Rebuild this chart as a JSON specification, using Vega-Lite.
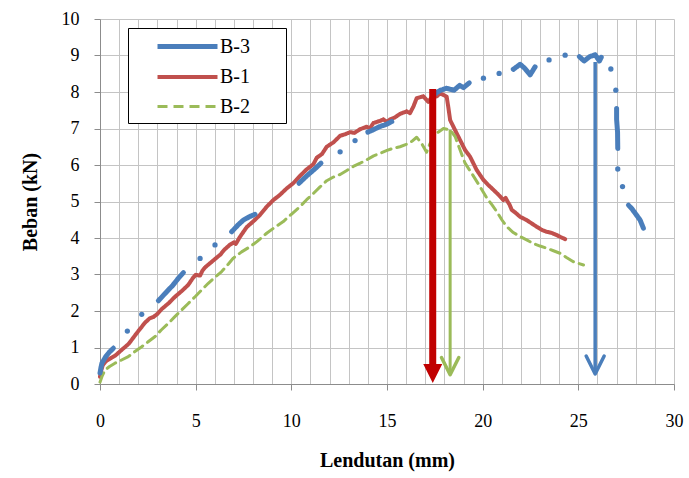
{
  "$schema": "https://vega.github.io/schema/vega-lite/v6.json",
  "autosize": {"type": "none"},
  "width": 574,
  "height": 365,
  "padding": {"left": 100, "top": 19, "right": 15, "bottom": 94},
  "background": "white",
  "config": {
    "view": {"stroke": null}
  },
  "datasets": {
    "curves": [
      {"s": "B-1", "g": "r", "x": 0, "y": 0.2},
      {"s": "B-1", "g": "r", "x": 0.05, "y": 0.35},
      {"s": "B-1", "g": "r", "x": 0.15, "y": 0.52},
      {"s": "B-1", "g": "r", "x": 0.3, "y": 0.62},
      {"s": "B-1", "g": "r", "x": 0.6, "y": 0.72},
      {"s": "B-1", "g": "r", "x": 0.8, "y": 0.78},
      {"s": "B-1", "g": "r", "x": 1.1, "y": 0.92},
      {"s": "B-1", "g": "r", "x": 1.5, "y": 1.1},
      {"s": "B-1", "g": "r", "x": 1.9, "y": 1.38},
      {"s": "B-1", "g": "r", "x": 2.35, "y": 1.68},
      {"s": "B-1", "g": "r", "x": 2.6, "y": 1.8},
      {"s": "B-1", "g": "r", "x": 2.8, "y": 1.84},
      {"s": "B-1", "g": "r", "x": 3.0, "y": 1.92},
      {"s": "B-1", "g": "r", "x": 3.22, "y": 2.05},
      {"s": "B-1", "g": "r", "x": 3.6, "y": 2.22},
      {"s": "B-1", "g": "r", "x": 3.92, "y": 2.39},
      {"s": "B-1", "g": "r", "x": 4.3, "y": 2.56},
      {"s": "B-1", "g": "r", "x": 4.62, "y": 2.72},
      {"s": "B-1", "g": "r", "x": 4.85, "y": 2.9},
      {"s": "B-1", "g": "r", "x": 5.0, "y": 2.99},
      {"s": "B-1", "g": "r", "x": 5.23, "y": 2.97},
      {"s": "B-1", "g": "r", "x": 5.35, "y": 3.1},
      {"s": "B-1", "g": "r", "x": 5.5, "y": 3.2},
      {"s": "B-1", "g": "r", "x": 5.8, "y": 3.33},
      {"s": "B-1", "g": "r", "x": 6.0, "y": 3.42},
      {"s": "B-1", "g": "r", "x": 6.3, "y": 3.55},
      {"s": "B-1", "g": "r", "x": 6.5, "y": 3.68},
      {"s": "B-1", "g": "r", "x": 6.8, "y": 3.82},
      {"s": "B-1", "g": "r", "x": 7.0, "y": 3.88},
      {"s": "B-1", "g": "r", "x": 7.1, "y": 3.84},
      {"s": "B-1", "g": "r", "x": 7.3, "y": 4.02},
      {"s": "B-1", "g": "r", "x": 7.67, "y": 4.3},
      {"s": "B-1", "g": "r", "x": 8.0, "y": 4.45},
      {"s": "B-1", "g": "r", "x": 8.36, "y": 4.63},
      {"s": "B-1", "g": "r", "x": 8.7, "y": 4.85},
      {"s": "B-1", "g": "r", "x": 9.06, "y": 5.04},
      {"s": "B-1", "g": "r", "x": 9.4, "y": 5.18},
      {"s": "B-1", "g": "r", "x": 9.76, "y": 5.36},
      {"s": "B-1", "g": "r", "x": 10.1, "y": 5.5},
      {"s": "B-1", "g": "r", "x": 10.45, "y": 5.7},
      {"s": "B-1", "g": "r", "x": 10.8, "y": 5.88},
      {"s": "B-1", "g": "r", "x": 11.15, "y": 6.02},
      {"s": "B-1", "g": "r", "x": 11.33, "y": 6.2},
      {"s": "B-1", "g": "r", "x": 11.6, "y": 6.3},
      {"s": "B-1", "g": "r", "x": 11.85, "y": 6.5},
      {"s": "B-1", "g": "r", "x": 12.2, "y": 6.62},
      {"s": "B-1", "g": "r", "x": 12.55, "y": 6.8},
      {"s": "B-1", "g": "r", "x": 12.8, "y": 6.84},
      {"s": "B-1", "g": "r", "x": 13.07, "y": 6.9},
      {"s": "B-1", "g": "r", "x": 13.3, "y": 6.88},
      {"s": "B-1", "g": "r", "x": 13.59, "y": 6.98},
      {"s": "B-1", "g": "r", "x": 13.94, "y": 7.05},
      {"s": "B-1", "g": "r", "x": 14.1, "y": 7.0},
      {"s": "B-1", "g": "r", "x": 14.29, "y": 7.15},
      {"s": "B-1", "g": "r", "x": 14.6, "y": 7.2},
      {"s": "B-1", "g": "r", "x": 14.81, "y": 7.25},
      {"s": "B-1", "g": "r", "x": 15.0, "y": 7.18},
      {"s": "B-1", "g": "r", "x": 15.16, "y": 7.25},
      {"s": "B-1", "g": "r", "x": 15.4, "y": 7.3},
      {"s": "B-1", "g": "r", "x": 15.68, "y": 7.4},
      {"s": "B-1", "g": "r", "x": 16.03, "y": 7.47},
      {"s": "B-1", "g": "r", "x": 16.2, "y": 7.42},
      {"s": "B-1", "g": "r", "x": 16.38, "y": 7.6},
      {"s": "B-1", "g": "r", "x": 16.55, "y": 7.83},
      {"s": "B-1", "g": "r", "x": 16.9, "y": 7.88},
      {"s": "B-1", "g": "r", "x": 17.16, "y": 7.73},
      {"s": "B-1", "g": "r", "x": 17.33, "y": 7.85},
      {"s": "B-1", "g": "r", "x": 17.6, "y": 7.88},
      {"s": "B-1", "g": "r", "x": 17.77, "y": 7.96},
      {"s": "B-1", "g": "r", "x": 17.95, "y": 7.92},
      {"s": "B-1", "g": "r", "x": 18.12, "y": 7.87},
      {"s": "B-1", "g": "r", "x": 18.2, "y": 7.6},
      {"s": "B-1", "g": "r", "x": 18.3, "y": 7.23},
      {"s": "B-1", "g": "r", "x": 18.47, "y": 7.05},
      {"s": "B-1", "g": "r", "x": 18.64, "y": 6.87},
      {"s": "B-1", "g": "r", "x": 18.9, "y": 6.6},
      {"s": "B-1", "g": "r", "x": 19.08, "y": 6.41},
      {"s": "B-1", "g": "r", "x": 19.34, "y": 6.23},
      {"s": "B-1", "g": "r", "x": 19.69, "y": 5.86},
      {"s": "B-1", "g": "r", "x": 20.04, "y": 5.59},
      {"s": "B-1", "g": "r", "x": 20.3, "y": 5.45},
      {"s": "B-1", "g": "r", "x": 20.56, "y": 5.32},
      {"s": "B-1", "g": "r", "x": 20.8, "y": 5.2},
      {"s": "B-1", "g": "r", "x": 21.08, "y": 5.04},
      {"s": "B-1", "g": "r", "x": 21.2, "y": 5.1},
      {"s": "B-1", "g": "r", "x": 21.3, "y": 5.0},
      {"s": "B-1", "g": "r", "x": 21.4, "y": 4.92},
      {"s": "B-1", "g": "r", "x": 21.52, "y": 4.77},
      {"s": "B-1", "g": "r", "x": 21.7, "y": 4.7},
      {"s": "B-1", "g": "r", "x": 21.96, "y": 4.58},
      {"s": "B-1", "g": "r", "x": 22.3, "y": 4.49},
      {"s": "B-1", "g": "r", "x": 22.5, "y": 4.42},
      {"s": "B-1", "g": "r", "x": 22.82, "y": 4.31},
      {"s": "B-1", "g": "r", "x": 23.1, "y": 4.22},
      {"s": "B-1", "g": "r", "x": 23.35, "y": 4.17},
      {"s": "B-1", "g": "r", "x": 23.6, "y": 4.14},
      {"s": "B-1", "g": "r", "x": 23.87, "y": 4.08},
      {"s": "B-1", "g": "r", "x": 24.1, "y": 4.02},
      {"s": "B-1", "g": "r", "x": 24.31, "y": 3.97},

      {"s": "B-2", "g": "g", "x": 0, "y": 0.05},
      {"s": "B-2", "g": "g", "x": 0.1, "y": 0.2},
      {"s": "B-2", "g": "g", "x": 0.26, "y": 0.38},
      {"s": "B-2", "g": "g", "x": 0.5, "y": 0.48},
      {"s": "B-2", "g": "g", "x": 0.78, "y": 0.57},
      {"s": "B-2", "g": "g", "x": 1.1, "y": 0.65},
      {"s": "B-2", "g": "g", "x": 1.48, "y": 0.75},
      {"s": "B-2", "g": "g", "x": 1.8, "y": 0.88},
      {"s": "B-2", "g": "g", "x": 2.18, "y": 1.02},
      {"s": "B-2", "g": "g", "x": 2.5, "y": 1.15},
      {"s": "B-2", "g": "g", "x": 2.88, "y": 1.3},
      {"s": "B-2", "g": "g", "x": 3.2, "y": 1.48},
      {"s": "B-2", "g": "g", "x": 3.57, "y": 1.66},
      {"s": "B-2", "g": "g", "x": 3.9, "y": 1.84},
      {"s": "B-2", "g": "g", "x": 4.27, "y": 2.03},
      {"s": "B-2", "g": "g", "x": 4.6, "y": 2.2},
      {"s": "B-2", "g": "g", "x": 4.97, "y": 2.39},
      {"s": "B-2", "g": "g", "x": 5.3, "y": 2.57},
      {"s": "B-2", "g": "g", "x": 5.66, "y": 2.76},
      {"s": "B-2", "g": "g", "x": 6.0, "y": 2.92},
      {"s": "B-2", "g": "g", "x": 6.36, "y": 3.08},
      {"s": "B-2", "g": "g", "x": 6.7, "y": 3.28},
      {"s": "B-2", "g": "g", "x": 6.97, "y": 3.45},
      {"s": "B-2", "g": "g", "x": 7.4, "y": 3.62},
      {"s": "B-2", "g": "g", "x": 7.84, "y": 3.76},
      {"s": "B-2", "g": "g", "x": 8.2, "y": 3.9},
      {"s": "B-2", "g": "g", "x": 8.71, "y": 4.13},
      {"s": "B-2", "g": "g", "x": 9.1, "y": 4.28},
      {"s": "B-2", "g": "g", "x": 9.58, "y": 4.45},
      {"s": "B-2", "g": "g", "x": 10.0, "y": 4.65},
      {"s": "B-2", "g": "g", "x": 10.45, "y": 4.86},
      {"s": "B-2", "g": "g", "x": 10.8, "y": 5.05},
      {"s": "B-2", "g": "g", "x": 11.15, "y": 5.22},
      {"s": "B-2", "g": "g", "x": 11.5, "y": 5.4},
      {"s": "B-2", "g": "g", "x": 11.85, "y": 5.57},
      {"s": "B-2", "g": "g", "x": 12.2, "y": 5.67},
      {"s": "B-2", "g": "g", "x": 12.55, "y": 5.74},
      {"s": "B-2", "g": "g", "x": 12.9, "y": 5.85},
      {"s": "B-2", "g": "g", "x": 13.24, "y": 5.96},
      {"s": "B-2", "g": "g", "x": 13.6, "y": 6.05},
      {"s": "B-2", "g": "g", "x": 13.94, "y": 6.14},
      {"s": "B-2", "g": "g", "x": 14.3, "y": 6.25},
      {"s": "B-2", "g": "g", "x": 14.64, "y": 6.32},
      {"s": "B-2", "g": "g", "x": 15.0, "y": 6.4},
      {"s": "B-2", "g": "g", "x": 15.33, "y": 6.46},
      {"s": "B-2", "g": "g", "x": 15.68, "y": 6.5},
      {"s": "B-2", "g": "g", "x": 16.03, "y": 6.57},
      {"s": "B-2", "g": "g", "x": 16.3, "y": 6.65},
      {"s": "B-2", "g": "g", "x": 16.55, "y": 6.76},
      {"s": "B-2", "g": "g", "x": 16.8, "y": 6.6},
      {"s": "B-2", "g": "g", "x": 17.07, "y": 6.35},
      {"s": "B-2", "g": "g", "x": 17.25, "y": 6.59},
      {"s": "B-2", "g": "g", "x": 17.6, "y": 6.87},
      {"s": "B-2", "g": "g", "x": 17.95, "y": 7.0},
      {"s": "B-2", "g": "g", "x": 18.3, "y": 6.96},
      {"s": "B-2", "g": "g", "x": 18.56, "y": 6.78},
      {"s": "B-2", "g": "g", "x": 18.82, "y": 6.41},
      {"s": "B-2", "g": "g", "x": 19.08, "y": 6.05},
      {"s": "B-2", "g": "g", "x": 19.43, "y": 5.77},
      {"s": "B-2", "g": "g", "x": 19.86, "y": 5.41},
      {"s": "B-2", "g": "g", "x": 20.21, "y": 5.1},
      {"s": "B-2", "g": "g", "x": 20.5, "y": 4.9},
      {"s": "B-2", "g": "g", "x": 20.74, "y": 4.72},
      {"s": "B-2", "g": "g", "x": 21.0, "y": 4.5},
      {"s": "B-2", "g": "g", "x": 21.26, "y": 4.31},
      {"s": "B-2", "g": "g", "x": 21.6, "y": 4.15},
      {"s": "B-2", "g": "g", "x": 21.96, "y": 4.04},
      {"s": "B-2", "g": "g", "x": 22.3, "y": 3.95},
      {"s": "B-2", "g": "g", "x": 22.65, "y": 3.85},
      {"s": "B-2", "g": "g", "x": 23.0, "y": 3.78},
      {"s": "B-2", "g": "g", "x": 23.35, "y": 3.72},
      {"s": "B-2", "g": "g", "x": 23.7, "y": 3.65},
      {"s": "B-2", "g": "g", "x": 24.05, "y": 3.58},
      {"s": "B-2", "g": "g", "x": 24.4, "y": 3.46},
      {"s": "B-2", "g": "g", "x": 24.74, "y": 3.35},
      {"s": "B-2", "g": "g", "x": 25.27, "y": 3.26},

      {"s": "B-3", "g": "b1", "x": 0, "y": 0.3},
      {"s": "B-3", "g": "b1", "x": 0.05, "y": 0.45},
      {"s": "B-3", "g": "b1", "x": 0.1, "y": 0.57},
      {"s": "B-3", "g": "b1", "x": 0.3, "y": 0.75},
      {"s": "B-3", "g": "b1", "x": 0.5, "y": 0.88},
      {"s": "B-3", "g": "b1", "x": 0.7, "y": 0.98},
      {"s": "B-3", "g": "b2", "x": 3.05, "y": 2.28},
      {"s": "B-3", "g": "b2", "x": 3.4, "y": 2.48},
      {"s": "B-3", "g": "b2", "x": 3.8, "y": 2.7},
      {"s": "B-3", "g": "b2", "x": 4.1, "y": 2.9},
      {"s": "B-3", "g": "b2", "x": 4.36, "y": 3.05},
      {"s": "B-3", "g": "b3", "x": 6.88, "y": 4.17},
      {"s": "B-3", "g": "b3", "x": 7.2, "y": 4.35},
      {"s": "B-3", "g": "b3", "x": 7.49, "y": 4.49},
      {"s": "B-3", "g": "b3", "x": 7.8, "y": 4.58},
      {"s": "B-3", "g": "b3", "x": 8.1, "y": 4.65},
      {"s": "B-3", "g": "b4", "x": 10.4, "y": 5.5},
      {"s": "B-3", "g": "b4", "x": 10.8, "y": 5.7},
      {"s": "B-3", "g": "b4", "x": 11.2, "y": 5.88},
      {"s": "B-3", "g": "b4", "x": 11.55, "y": 6.05},
      {"s": "B-3", "g": "b5", "x": 14.0, "y": 6.9},
      {"s": "B-3", "g": "b5", "x": 14.3, "y": 6.97},
      {"s": "B-3", "g": "b5", "x": 14.6, "y": 7.05},
      {"s": "B-3", "g": "b5", "x": 15.0, "y": 7.12},
      {"s": "B-3", "g": "b5", "x": 15.25, "y": 7.19},
      {"s": "B-3", "g": "b6", "x": 17.5, "y": 7.95},
      {"s": "B-3", "g": "b6", "x": 17.8, "y": 8.05},
      {"s": "B-3", "g": "b6", "x": 18.1, "y": 8.1},
      {"s": "B-3", "g": "b6", "x": 18.5, "y": 8.05},
      {"s": "B-3", "g": "b6", "x": 18.8, "y": 8.18},
      {"s": "B-3", "g": "b6", "x": 19.0, "y": 8.12},
      {"s": "B-3", "g": "b6", "x": 19.3, "y": 8.25},
      {"s": "B-3", "g": "b7", "x": 21.6, "y": 8.62},
      {"s": "B-3", "g": "b7", "x": 21.96, "y": 8.76},
      {"s": "B-3", "g": "b7", "x": 22.2, "y": 8.65},
      {"s": "B-3", "g": "b7", "x": 22.48, "y": 8.47},
      {"s": "B-3", "g": "b7", "x": 22.74, "y": 8.69},
      {"s": "B-3", "g": "b8", "x": 25.05, "y": 8.97},
      {"s": "B-3", "g": "b8", "x": 25.3, "y": 8.85},
      {"s": "B-3", "g": "b8", "x": 25.6, "y": 8.97},
      {"s": "B-3", "g": "b8", "x": 25.88, "y": 9.02},
      {"s": "B-3", "g": "b8", "x": 26.1, "y": 8.85},
      {"s": "B-3", "g": "b8", "x": 26.2, "y": 8.95},
      {"s": "B-3", "g": "b9", "x": 27.0, "y": 7.55},
      {"s": "B-3", "g": "b9", "x": 27.0, "y": 7.25},
      {"s": "B-3", "g": "b9", "x": 27.05, "y": 6.9},
      {"s": "B-3", "g": "b9", "x": 27.06, "y": 6.45},
      {"s": "B-3", "g": "b10", "x": 27.62, "y": 4.9},
      {"s": "B-3", "g": "b10", "x": 27.8, "y": 4.8},
      {"s": "B-3", "g": "b10", "x": 27.97, "y": 4.68},
      {"s": "B-3", "g": "b10", "x": 28.23, "y": 4.49},
      {"s": "B-3", "g": "b10", "x": 28.4, "y": 4.27}
    ],
    "dots": [
      {"s": "B-3", "x": 1.43, "y": 1.45},
      {"s": "B-3", "x": 2.18, "y": 1.91},
      {"s": "B-3", "x": 5.23, "y": 3.44},
      {"s": "B-3", "x": 6.01, "y": 3.81},
      {"s": "B-3", "x": 12.55, "y": 6.36},
      {"s": "B-3", "x": 13.33, "y": 6.67},
      {"s": "B-3", "x": 20.04, "y": 8.38},
      {"s": "B-3", "x": 20.86, "y": 8.51},
      {"s": "B-3", "x": 23.47, "y": 8.88},
      {"s": "B-3", "x": 24.31, "y": 9.01},
      {"s": "B-3", "x": 26.7, "y": 8.63},
      {"s": "B-3", "x": 26.96, "y": 8.05},
      {"s": "B-3", "x": 27.06, "y": 5.89},
      {"s": "B-3", "x": 27.31, "y": 5.41}
    ],
    "arrows": [
      {"a": "B-1", "x": 17.39, "top": 8.08, "bot": 0.55, "head": 0.29},
      {"a": "B-2", "x": 18.3, "top": 6.96, "bot": 0.27, "head": 0.49},
      {"a": "B-3", "x": 25.88, "top": 8.82, "bot": 0.32, "head": 0.52}
    ]
  },
  "encoding": {
    "x": {
      "field": "x",
      "type": "quantitative",
      "scale": {"domain": [0, 30], "nice": false, "zero": false},
      "axis": {
        "title": "Lendutan (mm)",
        "tickCount": 30,
        "format": "d",
        "labelExpr": "datum.value % 5 === 0 ? datum.label : ''",
        "labelOverlap": false,
        "labelBound": false,
        "labelFlush": false,
        "tickSize": {"condition": {"test": "datum.value % 5 === 0", "value": 6}, "value": 0},
        "labelFont": "Liberation Serif, DejaVu Serif, serif",
        "labelFontSize": 18,
        "labelColor": "black",
        "labelPadding": 22,
        "titleFont": "Liberation Serif, DejaVu Serif, serif",
        "titleFontSize": 20,
        "titleFontWeight": "bold",
        "titleColor": "black",
        "titlePadding": 20,
        "grid": true,
        "gridColor": "#C4C4C4",
        "gridWidth": 1,
        "gridOpacity": 1,
        "domainColor": "#8C8C8C",
        "tickColor": "#8C8C8C"
      }
    },
    "y": {
      "field": "y",
      "type": "quantitative",
      "scale": {"domain": [0, 10], "nice": false, "zero": false},
      "axis": {
        "title": "Beban (kN)",
        "tickCount": 50,
        "format": "d",
        "labelExpr": "abs(datum.value - round(datum.value)) < 0.001 ? format(datum.value, 'd') : ''",
        "labelOverlap": false,
        "labelBound": false,
        "labelFlush": false,
        "tickSize": {"condition": {"test": "abs(datum.value - round(datum.value)) < 0.001", "value": 6}, "value": 0},
        "labelFont": "Liberation Serif, DejaVu Serif, serif",
        "labelFontSize": 18,
        "labelColor": "black",
        "labelPadding": 15,
        "titleFont": "Liberation Serif, DejaVu Serif, serif",
        "titleFontSize": 20,
        "titleFontWeight": "bold",
        "titleColor": "black",
        "titlePadding": 21,
        "grid": true,
        "gridColor": "#C4C4C4",
        "gridWidth": 1,
        "gridOpacity": 1,
        "domainColor": "#8C8C8C",
        "tickColor": "#8C8C8C"
      }
    }
  },
  "layer": [
    {
      "data": {"name": "curves"},
      "mark": {"type": "line", "strokeCap": "round", "strokeJoin": "round"},
      "encoding": {
        "color": {
          "field": "s",
          "type": "nominal",
          "scale": {"domain": ["B-3", "B-1", "B-2"], "range": ["#4A7EBB", "#C0504D", "#9BBB59"]},
          "legend": {
            "title": null,
            "orient": "none",
            "legendX": 28,
            "legendY": 9,
            "strokeColor": "black",
            "fillColor": "white",
            "padding": 6,
            "symbolType": "M-3,0L3,0",
            "symbolSize": 400,
            "symbolOffset": 41,
            "labelFont": "Liberation Serif, DejaVu Serif, serif",
            "labelFontSize": 20,
            "labelColor": "black",
            "labelOffset": 20,
            "labelExpr": "datum.label + '\u2800\u2800'",
            "rowPadding": 8
          }
        },
        "strokeDash": {
          "field": "s",
          "type": "nominal",
          "scale": {"domain": ["B-3", "B-1", "B-2"], "range": [[1, 0], [1, 0], [10, 6]]},
          "legend": {"title": null}
        },
        "strokeWidth": {
          "field": "s",
          "type": "ordinal",
          "scale": {"domain": ["B-3", "B-1", "B-2"], "range": [5, 3, 3.5]},
          "legend": {"title": null}
        },
        "detail": {"field": "g", "type": "nominal"},
        "order": {"field": "x", "type": "quantitative"}
      }
    },
    {
      "data": {"name": "dots"},
      "mark": {"type": "point", "shape": "circle", "filled": true, "size": 28, "color": "#4A7EBB", "opacity": 1}
    },
    {
      "data": {"name": "arrows"},
      "transform": [{"filter": "datum.a === 'B-1'"}],
      "mark": {"type": "rule", "color": "#C00000", "strokeWidth": 7},
      "encoding": {"y": {"field": "top", "type": "quantitative"}, "y2": {"field": "bot"}}
    },
    {
      "data": {"name": "arrows"},
      "transform": [{"filter": "datum.a === 'B-1'"}],
      "mark": {"type": "point", "shape": "M-1,-1L1,-1L0,1Z", "filled": true, "color": "#C00000", "size": 361, "opacity": 1},
      "encoding": {"y": {"field": "head", "type": "quantitative"}}
    },
    {
      "data": {"name": "arrows"},
      "transform": [{"filter": "datum.a === 'B-2'"}],
      "mark": {"type": "rule", "color": "#9BBB59", "strokeWidth": 3},
      "encoding": {"y": {"field": "top", "type": "quantitative"}, "y2": {"field": "bot"}}
    },
    {
      "data": {"name": "arrows"},
      "transform": [{"filter": "datum.a === 'B-2'"}],
      "mark": {"type": "point", "shape": "M-1,-1L0,1L1,-1", "filled": false, "color": "#9BBB59", "strokeWidth": 3.5, "size": 300, "opacity": 1, "strokeCap": "round", "strokeJoin": "round"},
      "encoding": {"y": {"field": "head", "type": "quantitative"}}
    },
    {
      "data": {"name": "arrows"},
      "transform": [{"filter": "datum.a === 'B-3'"}],
      "mark": {"type": "rule", "color": "#4A7EBB", "strokeWidth": 3.5},
      "encoding": {"y": {"field": "top", "type": "quantitative"}, "y2": {"field": "bot"}}
    },
    {
      "data": {"name": "arrows"},
      "transform": [{"filter": "datum.a === 'B-3'"}],
      "mark": {"type": "point", "shape": "M-1,-1L0,1L1,-1", "filled": false, "color": "#4A7EBB", "strokeWidth": 3.5, "size": 324, "opacity": 1, "strokeCap": "round", "strokeJoin": "round"},
      "encoding": {"y": {"field": "head", "type": "quantitative"}}
    }
  ]
}
